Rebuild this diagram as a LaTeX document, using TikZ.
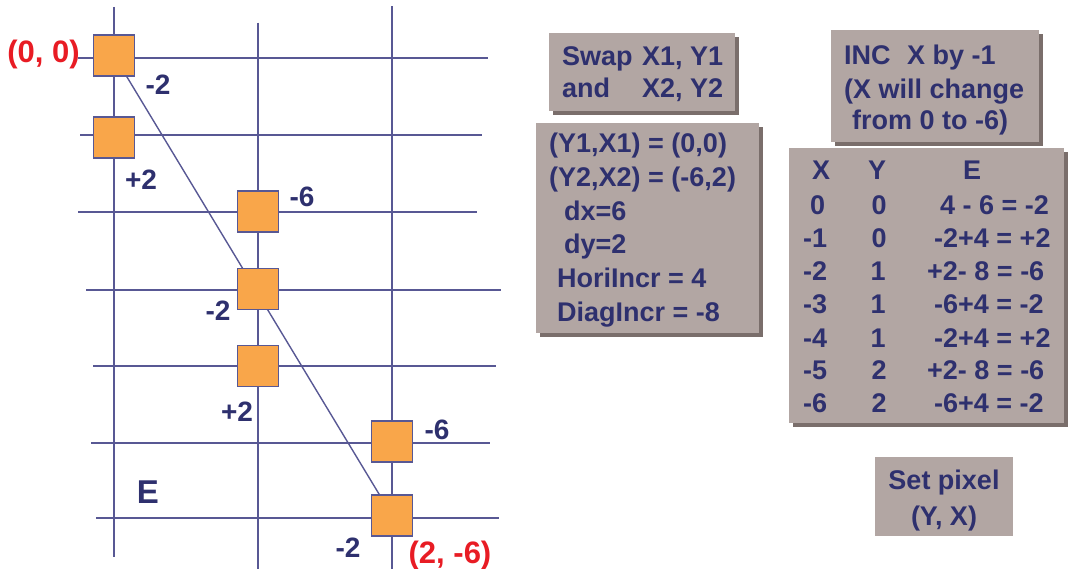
\documentclass[tikz,border=0pt]{standalone}
\usepackage{fontspec}
\setmainfont{Liberation Sans}
\usetikzlibrary{backgrounds}
\definecolor{navy}{RGB}{46,48,110}
\definecolor{gridc}{RGB}{88,88,148}
\definecolor{sqfill}{RGB}{249,166,74}
\definecolor{boxfill}{RGB}{178,166,163}
\definecolor{shadowc}{RGB}{122,110,107}
\definecolor{redc}{RGB}{232,28,36}
\begin{document}
\begin{tikzpicture}[x=1pt,y=-1pt,
  gridline/.style={gridc, line width=2pt},
  pix/.style={draw=gridc, fill=sqfill, line width=1.5pt, minimum size=41pt, inner sep=0pt},
  lbl/.style={text=navy, font=\fontsize{28}{30}\selectfont\bfseries, inner sep=0pt, anchor=base},
  biglbl/.style={text=navy, font=\fontsize{33}{35}\selectfont\bfseries, inner sep=0pt, anchor=base},
  redlbl/.style={text=redc, font=\fontsize{31}{33}\selectfont\bfseries, inner sep=0pt, anchor=base},
  txt/.style={text=navy, font=\fontsize{27}{33}\selectfont\bfseries, inner sep=0pt, anchor=base west},
  ctxt/.style={text=navy, font=\fontsize{27}{33}\selectfont\bfseries, inner sep=0pt, anchor=base},
  box/.style={fill=boxfill, inner sep=0pt},
  shadowbox/.style={fill=shadowc}]
\useasboundingbox (0,0) rectangle (1068,569);
% pixel centres
\coordinate (c1) at (114,55.5);
\coordinate (c2) at (114,137.5);
\coordinate (c3) at (258,211.5);
\coordinate (c4) at (258,289);
\coordinate (c5) at (258,366);
\coordinate (c6) at (392,441.5);
\coordinate (c7) at (392,515.5);
% grid
\draw[gridline] (78,58) -- (488,58);
\draw[gridline] (80,135) -- (482,135);
\draw[gridline] (78,212) -- (477,212);
\draw[gridline] (86,290) -- (501,290);
\draw[gridline] (93,366) -- (496,366);
\draw[gridline] (91,443) -- (490,443);
\draw[gridline] (96,518) -- (499,518);
\draw[gridline] (114,7) -- (114,557);
\draw[gridline] (258,22.7) -- (258,569);
\draw[gridline] (392,6.5) -- (392,569);
% ideal line
\draw[gridc, line width=1.4pt] (c1) -- (c7);
% pixels
\node[pix] (p1) at (c1) {};
\node[pix] (p2) at (c2) {};
\node[pix] (p3) at (c3) {};
\node[pix] (p4) at (c4) {};
\node[pix] (p5) at (c5) {};
\node[pix] (p6) at (c6) {};
\node[pix] (p7) at (c7) {};
% labels
\node[redlbl] (start) at (43.5,63) {(0, 0)};
\node[redlbl] (end) at (450,563) {(2, -6)};
\node[lbl] (e1) at (158,95) {-2};
\node[lbl] (e2) at (141,190) {+2};
\node[lbl] (e3) at (302,207) {-6};
\node[lbl] (e4) at (218,320) {-2};
\node[lbl] (e5) at (237,421) {+2};
\node[lbl] (e6) at (437,439) {-6};
\node[lbl] (e7) at (348,557) {-2};
\node[biglbl] (elab) at (148,503) {E};
% boxes
\node[box, minimum width=186pt, minimum height=78pt] (swap) at (642,72) {};
\node[box, minimum width=223pt, minimum height=210pt] (init) at (647.5,228) {};
\node[box, minimum width=208pt, minimum height=112pt] (inc) at (935,86) {};
\node[box, minimum width=275pt, minimum height=275pt] (tab) at (926.5,285.5) {};
\node[box, minimum width=138pt, minimum height=79pt] (setpx) at (944,496.5) {};
\begin{scope}[on background layer]
\fill[shadowbox] ([shift={(4,4)}]swap.north west) rectangle ([shift={(4,4)}]swap.south east);
\fill[shadowbox] ([shift={(4,4)}]init.north west) rectangle ([shift={(4,4)}]init.south east);
\fill[shadowbox] ([shift={(4,4)}]inc.north west) rectangle ([shift={(4,4)}]inc.south east);
\fill[shadowbox] ([shift={(4,4)}]tab.north west) rectangle ([shift={(4,4)}]tab.south east);
\end{scope}
% swap box text
\node[txt] (s1) at (562,66) {Swap};
\node[txt] (s2) at (642,66) {X1, Y1};
\node[txt] (s3) at (562,98) {and};
\node[txt] (s4) at (642,98) {X2, Y2};
% init box text
\node[txt] (i1) at (549,153) {(Y1,X1) = (0,0)};
\node[txt] (i2) at (549,187) {(Y2,X2) = (-6,2)};
\node[txt] (i3) at (564,221) {dx=6};
\node[txt] (i4) at (564,254) {dy=2};
\node[txt] (i5) at (557,288) {HoriIncr = 4};
\node[txt] (i6) at (557,321) {DiagIncr = -8};
% inc box text
\node[txt] (n1) at (844,65) {INC};
\node[txt] (n2) at (907,65) {X by -1};
\node[txt] (n3) at (844,99) {(X will change};
\node[txt] (n4) at (852,130) {from 0 to -6)};
% table
\node[txt] (hx) at (812,180) {X};
\node[ctxt] (hy) at (877,180) {Y};
\node[txt] (he) at (963,180) {E};
\node[txt] (x0) at (810,215) {0};
\node[txt] (x1) at (803,248) {-1};
\node[txt] (x2) at (803,280) {-2};
\node[txt] (x3) at (803,313) {-3};
\node[txt] (x4) at (803,347) {-4};
\node[txt] (x5) at (803,379) {-5};
\node[txt] (x6) at (803,412) {-6};
\node[ctxt] (y0) at (879,215) {0};
\node[ctxt] (y1) at (879,248) {0};
\node[ctxt] (y2) at (878,280) {1};
\node[ctxt] (y3) at (878,313) {1};
\node[ctxt] (y4) at (878,347) {1};
\node[ctxt] (y5) at (879,379) {2};
\node[ctxt] (y6) at (879,412) {2};
\node[txt] (r0) at (940,215) {4 - 6 = -2};
\node[txt] (r1) at (934,248) {-2+4 = +2};
\node[txt] (r2) at (927,280) {+2- 8 = -6};
\node[txt] (r3) at (934,313) {-6+4 = -2};
\node[txt] (r4) at (934,347) {-2+4 = +2};
\node[txt] (r5) at (927,379) {+2- 8 = -6};
\node[txt] (r6) at (934,412) {-6+4 = -2};
% set pixel
\node[ctxt] (sp1) at (944,489) {Set pixel};
\node[ctxt] (sp2) at (944,525) {(Y, X)};
\end{tikzpicture}
\end{document}
